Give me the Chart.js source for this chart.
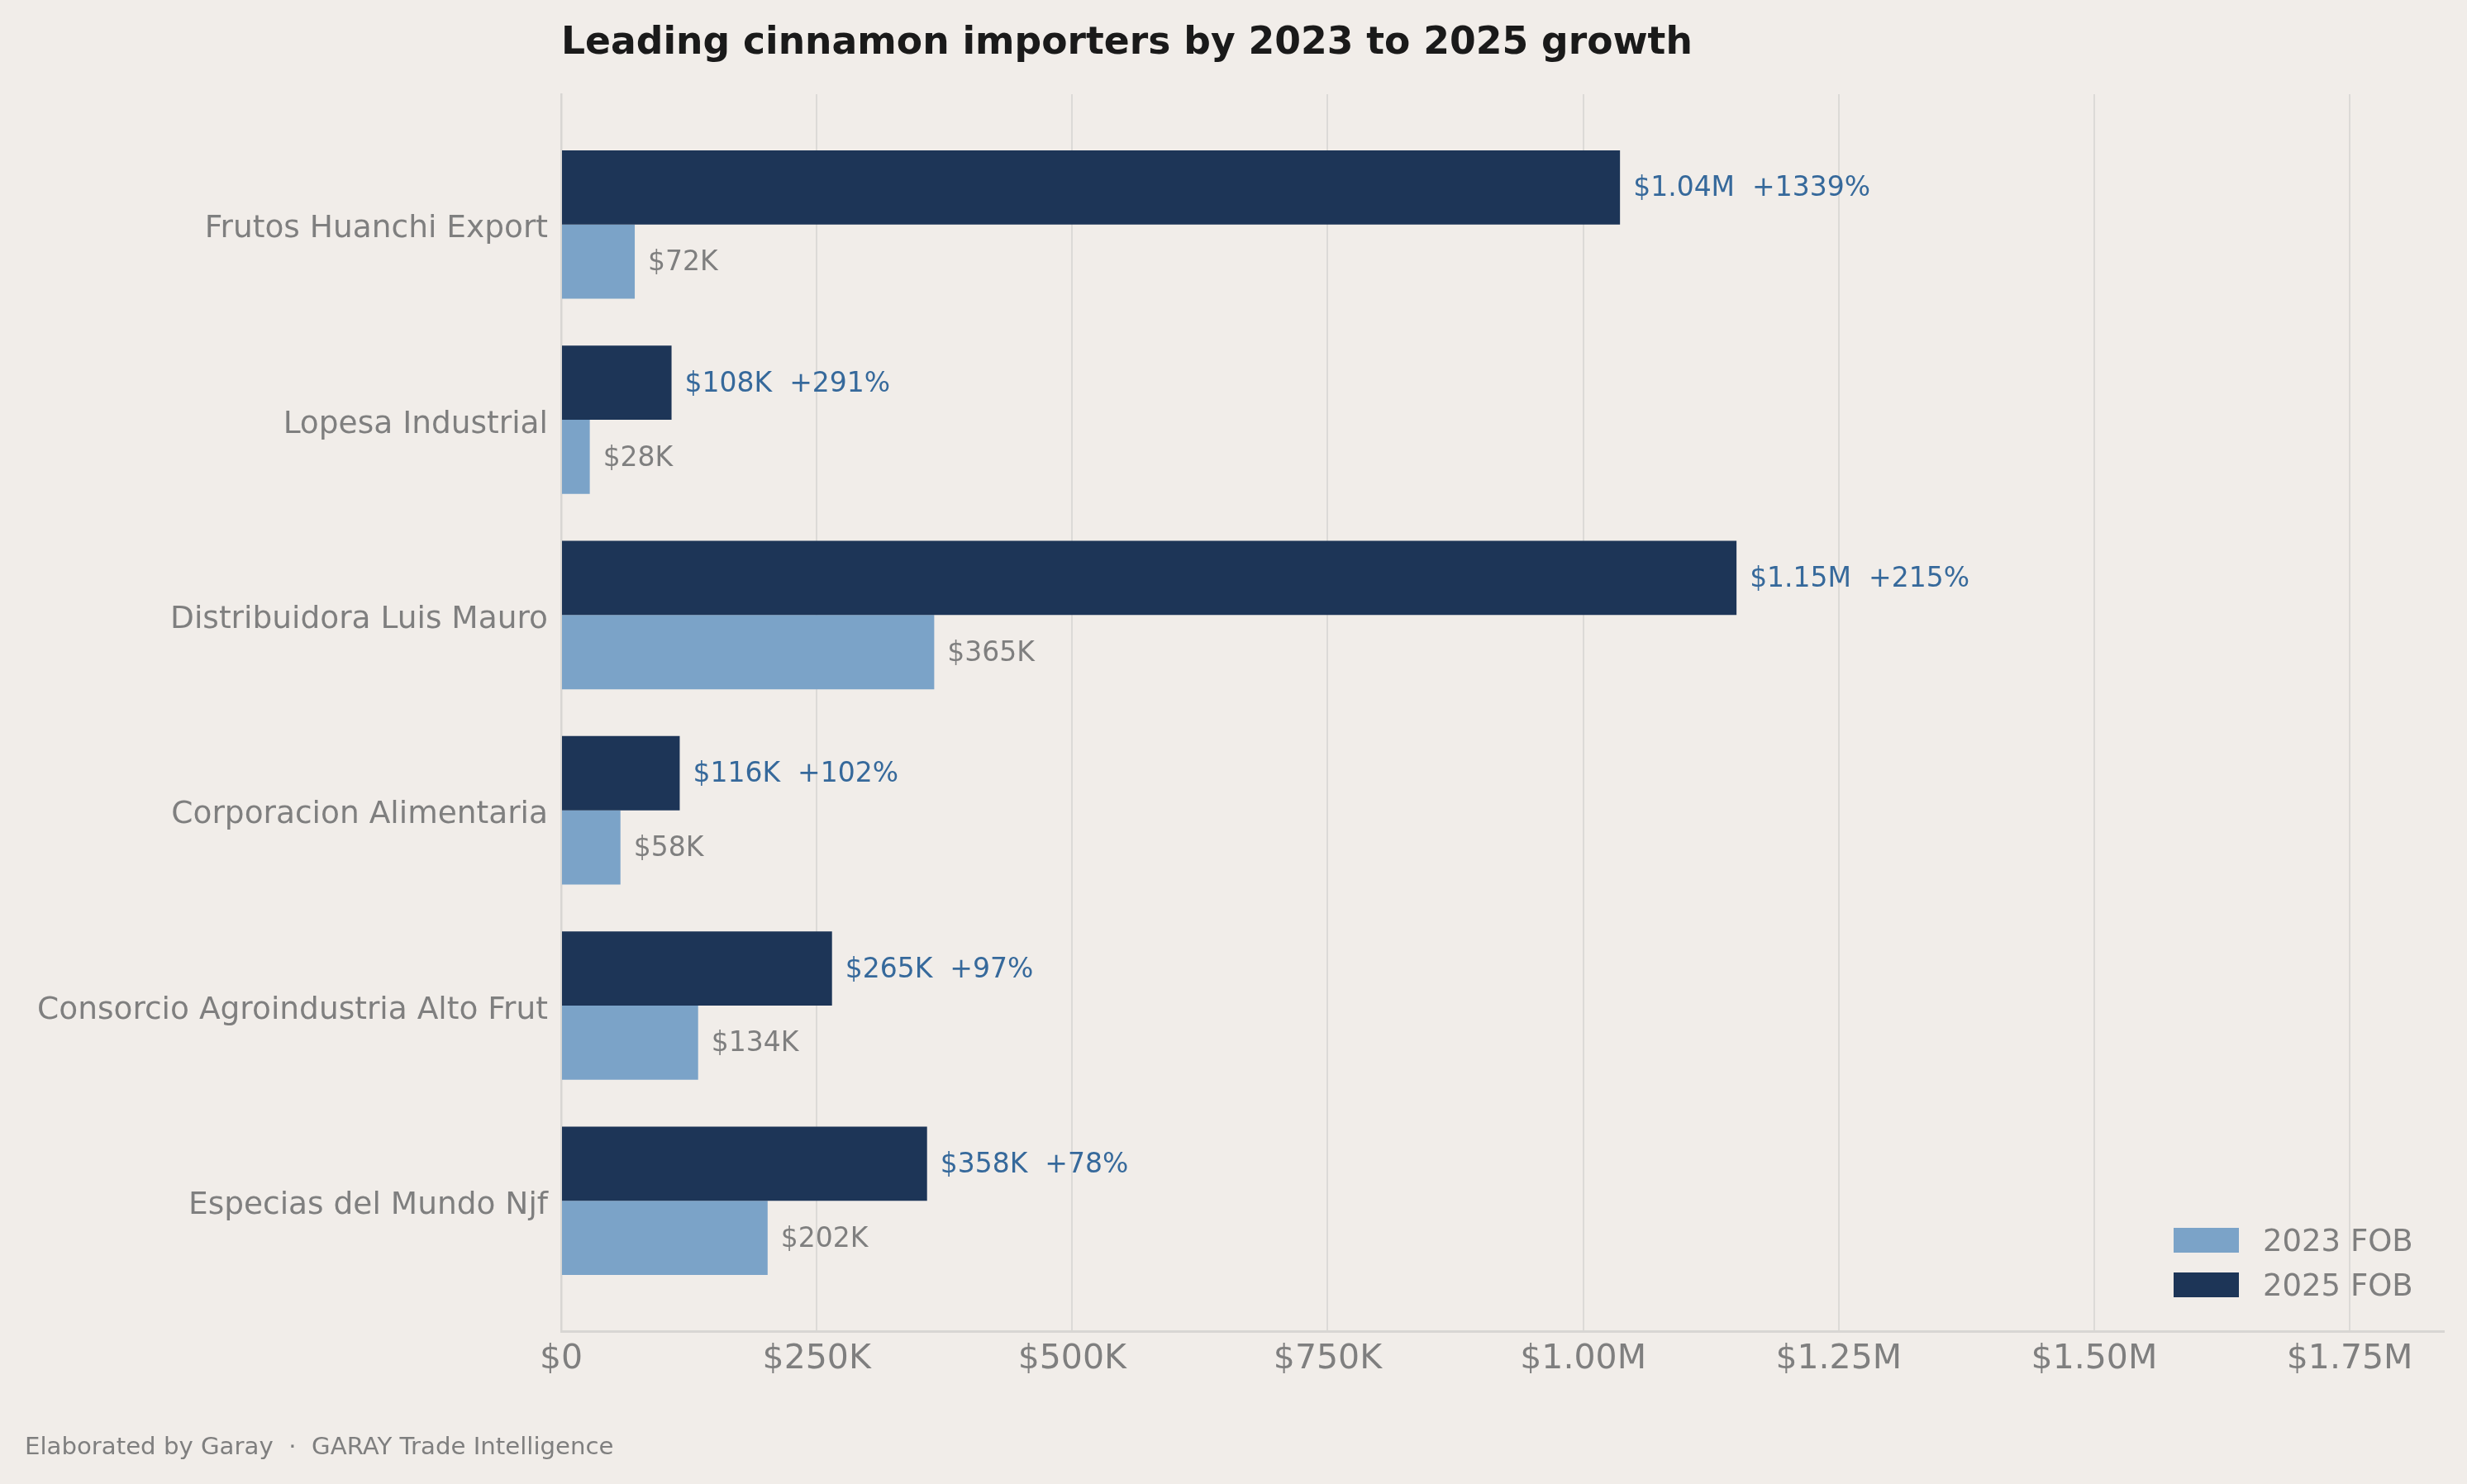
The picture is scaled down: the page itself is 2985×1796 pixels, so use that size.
<!DOCTYPE html>
<html>
<head>
<meta charset="utf-8">
<script src="https://cdn.jsdelivr.net/npm/chart.js@4.4.1/dist/chart.umd.min.js"></script>
<style>
html,body{margin:0;padding:0;background:#f1ede9;overflow:hidden}
#wrap{position:relative;width:2985px;height:1796px}
</style>
</head>
<body>
<div id="wrap"><canvas id="c"></canvas></div>
<script>
const categories = ['Frutos Huanchi Export', 'Lopesa Industrial', 'Distribuidora Luis Mauro', 'Corporacion Alimentaria', 'Consorcio Agroindustria Alto Frut', 'Especias del Mundo Njf'];
const fob2023 = [72000, 28000, 365000, 58000, 134000, 202000];
const fob2025 = [1036000, 108000, 1150000, 116000, 265000, 358000];
const growthPct = [1339, 291, 215, 102, 97, 78];
const seriesNames = ['2023 FOB', '2025 FOB'];
const xTicks = [0, 250000, 500000, 750000, 1000000, 1250000, 1500000, 1750000];
const xTickLabels = ['$0', '$250K', '$500K', '$750K', '$1.00M', '$1.25M', '$1.50M', '$1.75M'];
const titleText = 'Leading cinnamon importers by 2023 to 2025 growth';
const footerText = 'Elaborated by Garay  \u00b7  GARAY Trade Intelligence';

const C_LIGHT = '#7ba3c8';
const C_DARK = '#1d3557';
const C_BLUE_TXT = '#36699b';
const C_GRAY = '#7f7f7f';
const BG = '#f1ede9';
const FONT = "'DejaVu Sans', sans-serif";

function fmt(v) {
  if (v >= 1e6) return '$' + (v / 1e6).toFixed(2) + 'M';
  return '$' + Math.round(v / 1000) + 'K';
}

const bgPlugin = {
  id: 'bg',
  beforeDraw(chart) {
    const c = chart.ctx;
    c.save();
    c.fillStyle = BG;
    c.fillRect(0, 0, chart.width, chart.height);
    c.restore();
  }
};

const labelPlugin = {
  id: 'barLabels',
  afterDatasetsDraw(chart) {
    const c = chart.ctx;
    c.save();
    c.font = '33px ' + FONT;
    c.textAlign = 'left';
    c.textBaseline = 'middle';
    chart.data.datasets.forEach((ds, di) => {
      const meta = chart.getDatasetMeta(di);
      meta.data.forEach((el, i) => {
        const v = ds.data[i].x;
        let txt, col;
        if (ds.key === '2025') {
          txt = fmt(v) + '  +' + growthPct[i] + '%';
          col = C_BLUE_TXT;
        } else {
          txt = fmt(v);
          col = C_GRAY;
        }
        c.fillStyle = col;
        c.fillText(txt, el.x + 16, el.y + 2);
      });
    });
    c.restore();
  }
};

const textPlugin = {
  id: 'texts',
  afterDraw(chart) {
    const c = chart.ctx;
    const ca = chart.chartArea;
    c.save();
    // title
    c.fillStyle = '#1a1a1a';
    c.font = 'bold 45.6px ' + FONT;
    c.textAlign = 'left';
    c.textBaseline = 'alphabetic';
    c.fillText(titleText, ca.left, 65);
    // footer
    c.fillStyle = C_GRAY;
    c.font = '29.2px ' + FONT;
    c.fillText(footerText, 30, 1760);
    // legend (2023 first, then 2025)
    const items = [
      {name: seriesNames[0], color: C_LIGHT},
      {name: seriesNames[1], color: C_DARK}
    ];
    c.font = '37px ' + FONT;
    items.forEach((it, k) => {
      const top = 1486 + k * 54;
      c.fillStyle = it.color;
      c.fillRect(ca.right - 327, top, 79, 30);
      c.fillStyle = C_GRAY;
      c.fillText(it.name, ca.right - 219, top + 28);
    });
    c.restore();
  }
};

const ctx = document.getElementById('c').getContext('2d');
new Chart(ctx, {
  type: 'bar',
  data: {
    datasets: [
      {
        key: '2025',
        label: seriesNames[1],
        data: fob2025.map((v, i) => ({x: v, y: i})),
        backgroundColor: C_DARK,
        borderWidth: 0,
        barPercentage: 1.0,
        categoryPercentage: 0.76
      },
      {
        key: '2023',
        label: seriesNames[0],
        data: fob2023.map((v, i) => ({x: v, y: i})),
        backgroundColor: C_LIGHT,
        borderWidth: 0,
        barPercentage: 1.0,
        categoryPercentage: 0.76
      }
    ]
  },
  options: {
    indexAxis: 'y',
    responsive: true,
    maintainAspectRatio: false,
    animation: false,
    layout: {padding: {left: 0, top: 114, right: 28, bottom: 0}},
    plugins: {
      legend: {display: false},
      title: {display: false},
      tooltip: {enabled: false}
    },
    scales: {
      x: {
        type: 'linear',
        position: 'bottom',
        offset: false,
        min: 0,
        max: 1842100,
        afterBuildTicks(scale) {
          scale.ticks = xTicks.map(v => ({value: v}));
        },
        afterFit(scale) { scale.height = 185; },
        ticks: {
          callback(value) {
            const k = xTicks.indexOf(value);
            return k >= 0 ? xTickLabels[k] : '';
          },
          font: {family: FONT, size: 41},
          color: C_GRAY,
          padding: 10,
          maxRotation: 0,
          autoSkip: false
        },
        grid: {
          display: true,
          offset: false,
          color: '#dcdad7',
          lineWidth: 2,
          drawTicks: false
        },
        border: {display: true, color: '#d8d6d3', width: 3}
      },
      y: {
        type: 'linear',
        position: 'left',
        offset: false,
        reverse: true,
        min: -0.6675,
        max: 5.6675,
        afterBuildTicks(scale) {
          scale.ticks = categories.map((_, i) => ({value: i}));
        },
        afterFit(scale) { scale.width = 679; },
        ticks: {
          callback(value) {
            return Number.isInteger(value) ? categories[value] : '';
          },
          font: {family: FONT, size: 37.5},
          color: C_GRAY,
          padding: 16,
          labelOffset: 6,
          autoSkip: false
        },
        grid: {display: false, offset: false, drawTicks: false},
        border: {display: true, color: '#d8d6d3', width: 2.5}
      }
    }
  },
  plugins: [bgPlugin, labelPlugin, textPlugin]
});
</script>
</body>
</html>
